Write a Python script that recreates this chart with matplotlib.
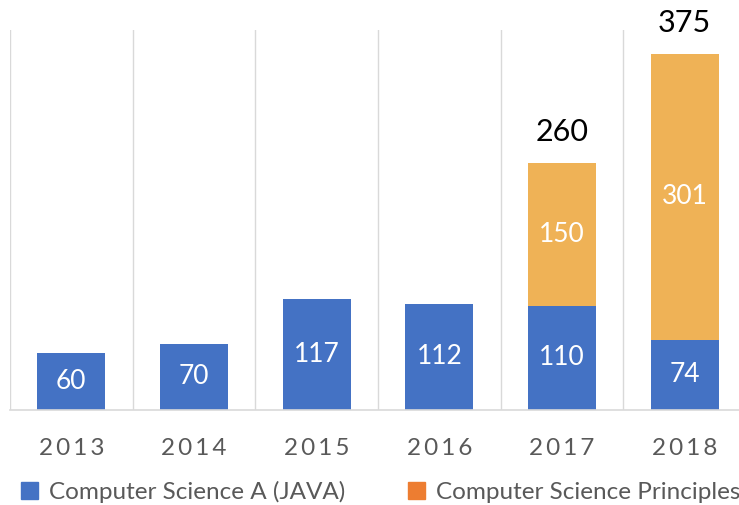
import numpy as np
import matplotlib.pyplot as plt
from matplotlib.patches import Patch

years = ['2013', '2014', '2015', '2016', '2017', '2018']
csa = [60, 70, 117, 112, 110, 74]
csp = [0, 0, 0, 0, 150, 301]
series = ['Computer Science A (JAVA)', 'Computer Science Principles']

blue = '#4472C4'
gold = '#EFB256'
legend_orange = '#ED7D31'

plt.rcParams['font.family'] = ['Lato', 'DejaVu Sans']

fig = plt.figure(figsize=(7.39, 5.05), dpi=100)
ax = fig.add_axes([10 / 739, 95 / 505, 736 / 739, 380 / 505])

x = np.arange(len(years))
ax.bar(x, csa, width=0.555, color=blue)
ax.bar(x, csp, width=0.555, bottom=csa, color=gold)

for i in range(len(years)):
    ax.text(x[i], csa[i] / 2, str(csa[i]), ha='center', va='center',
            color='white', fontsize=19)
    if csp[i] > 0:
        ax.text(x[i], csa[i] + csp[i] / 2, str(csp[i]), ha='center',
                va='center', color='white', fontsize=19)
        ax.text(x[i], csa[i] + csp[i] + 18, str(csa[i] + csp[i]),
                ha='center', va='bottom', color='black', fontsize=22)

ax.set_xlim(-0.5, len(years) - 0.5)
ax.set_ylim(0, 400)
ax.set_xticks(x)
ax.set_xticklabels(['\u2009'.join(y) for y in years], fontsize=17.5,
                   color='#595959')
ax.set_yticks([])
ax.set_xticks(np.arange(len(years) + 1) - 0.5, minor=True)
ax.tick_params(axis='x', which='both', length=0, pad=20)
ax.xaxis.grid(True, which='minor', color='#D9D9D9', linewidth=1)
ax.set_axisbelow(True)
for s in ['top', 'right', 'left']:
    ax.spines[s].set_visible(False)
ax.spines['bottom'].set_color('#D9D9D9')
ax.spines['bottom'].set_linewidth(1.2)

handles = [Patch(color=blue), Patch(color=legend_orange)]
fig.legend(handles, series, loc='center', bbox_to_anchor=(0.515, 13 / 505),
           ncol=2, frameon=False, fontsize=17.5, handlelength=0.7,
           handleheight=0.7, handletextpad=0.45, columnspacing=2.6,
           labelcolor='#595959')

fig.savefig('out.png', dpi=100)
